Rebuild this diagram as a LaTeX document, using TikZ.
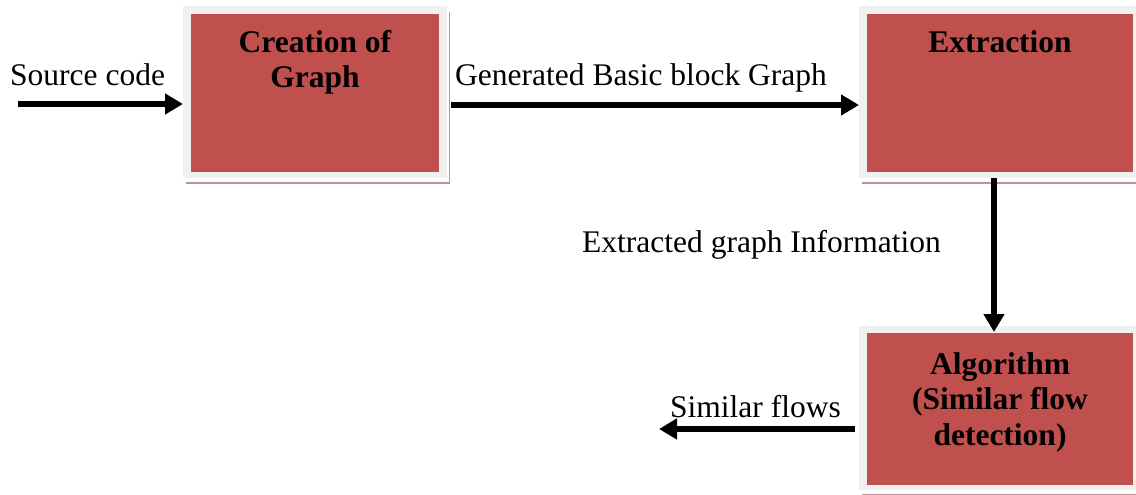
\documentclass[tikz,border=0pt]{standalone}
\usepackage{fontspec}
\setmainfont{Liberation Serif}
\usetikzlibrary{arrows.meta}
\definecolor{boxred}{HTML}{C0504D}
\definecolor{boxrim}{HTML}{F0F0F0}
\definecolor{boxshadow}{HTML}{BA9393}
\begin{document}
\begin{tikzpicture}[x=1pt,y=-1pt,
  box/.style={fill=boxrim, draw=none, inner sep=0pt, outer sep=0pt,
    preaction={fill=boxshadow, transform canvas={shift={(3pt,-6pt)}}},
    preaction={fill=white, transform canvas={shift={(1.5pt,-3.5pt)}}}},
  lbl/.style={inner sep=0pt, anchor=base west, font=\fontsize{31.5}{35.5}\selectfont},
  ttl/.style={inner sep=0pt, anchor=base, align=center, font=\fontsize{31.5}{35.5}\selectfont\bfseries},
  arr/.style={line width=5.5pt, -{Triangle[length=18pt,width=20pt]}}]
\useasboundingbox (0,0) rectangle (1136,495);

% boxes
\node[box, minimum width=264pt, minimum height=172pt] (b1) at (315,92) {};
\node[box, minimum width=277pt, minimum height=172pt] (b2) at (997.5,92) {};
\node[box, minimum width=277pt, minimum height=164pt] (b3) at (997.5,408) {};
\fill[boxred] ([shift={(8,8)}]b1.north west) rectangle ([shift={(-8,-6)}]b1.south east);
\fill[boxred] ([shift={(8,8)}]b2.north west) rectangle ([shift={(-3,-6)}]b2.south east);
\fill[boxred] ([shift={(8,7)}]b3.north west) rectangle ([shift={(-3,-5)}]b3.south east);

% titles (anchor=base is the baseline of the last line)
\node[ttl] (t1) at (315,88) {Creation of\\Graph};
\node[ttl] (t2) at (1000,53) {Extraction};
\node[ttl] (t3) at (1000,445) {Algorithm\\(Similar flow\\detection)};

% labels
\node[lbl] (l1) at (10,85) {Source code};
\node[lbl] (l2) at (455,85) {Generated Basic block Graph};
\node[lbl] (l3) at (582,252) {Extracted graph Information};
\node[lbl] (l4) at (670,417) {Similar flows};

% connectors
\coordinate (s0) at (18,104);
\coordinate (ax) at (994,0);
\coordinate (e4) at (659,429);
\draw[arr] (s0) -- (s0 -| b1.west);
\draw[arr, shorten <=4pt] (b1.east |- 0,105) -- (b2.west |- 0,105);
\draw[arr, shorten >=-6pt] (b2.south -| ax) -- (b3.north -| ax);
\draw[arr, shorten <=4pt] (b3.west |- e4) -- (e4);
\end{tikzpicture}
\end{document}
